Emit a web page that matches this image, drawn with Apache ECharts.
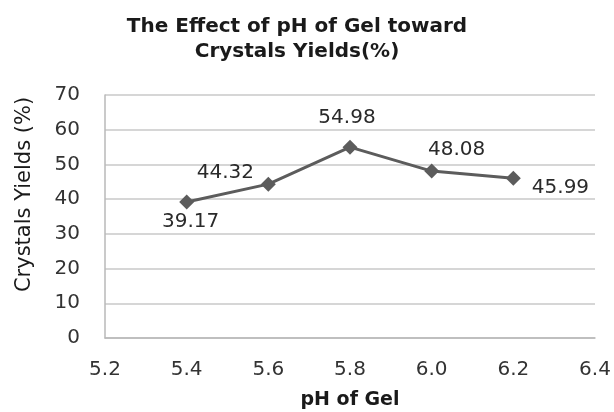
<!DOCTYPE html>
<html>
<head>
<meta charset="utf-8">
<script src="https://cdn.jsdelivr.net/npm/echarts@6/dist/echarts.min.js"></script>
<style>
  html, body { margin: 0; padding: 0; background: #fff; }
  #chart { width: 614px; height: 412px; }
</style>
</head>
<body>
<div id="chart"></div>
<script>
const phValues = [5.4, 5.6, 5.8, 6.0, 6.2];
const yields = [39.17, 44.32, 54.98, 48.08, 45.99];
// where each value label sits relative to its point
const labelPlacement = [
  { position: "bottom", offset: [4, -3] },
  { position: "top", offset: [-43, 11] },
  { position: "top", offset: [-3, -7] },
  { position: "top", offset: [25, 1] },
  { position: "right", offset: [6, 9] },
];

const font = "DejaVu Sans, sans-serif";
const chart = echarts.init(document.getElementById("chart"));

const points = phValues.map((x, i) => ({
  value: [x, yields[i]],
  label: {
    show: true,
    position: labelPlacement[i].position,
    offset: labelPlacement[i].offset,
    formatter: yields[i].toFixed(2),
  },
}));

chart.setOption({
  animation: false,
  title: {
    text: "The Effect of pH of Gel toward\nCrystals Yields(%)",
    left: 292,
    top: 9,
    textAlign: "center",
    textStyle: {
      fontFamily: font,
      fontSize: 20,
      fontWeight: "bold",
      color: "#1a1a1a",
      lineHeight: 25,
    },
  },
  grid: { left: 105, right: 19, top: 95, bottom: 74, outerBoundsMode: "none" },
  xAxis: {
    type: "value",
    min: 5.2,
    max: 6.4,
    interval: 0.2,
    name: "pH of Gel",
    nameLocation: "middle",
    nameGap: 53,
    nameTextStyle: { fontFamily: font, fontSize: 19, fontWeight: "bold", color: "#1a1a1a" },
    axisLine: { show: true, lineStyle: { color: "#b8b8b8", width: 1.5 } },
    axisTick: { show: false },
    splitLine: { show: false },
    axisLabel: {
      fontFamily: font,
      fontSize: 20,
      color: "#333",
      margin: 22,
      formatter: (v) => v.toFixed(1),
    },
  },
  yAxis: {
    type: "value",
    min: 0,
    max: 70,
    interval: 10,
    name: "Crystals Yields (%)",
    nameLocation: "middle",
    nameGap: 70,
    nameRotate: 90,
    nameTextStyle: { fontFamily: font, fontSize: 21, color: "#1a1a1a", padding: [0, 0, 0, 44] },
    axisLine: { show: true, lineStyle: { color: "#b8b8b8", width: 1.5 } },
    axisTick: { show: false },
    splitLine: { lineStyle: { color: "#c8c8c8", width: 1.5 } },
    axisLabel: { fontFamily: font, fontSize: 20, color: "#333", margin: 25 },
  },
  series: [
    {
      type: "line",
      data: points,
      symbol: "diamond",
      symbolSize: 15,
      lineStyle: { color: "#5c5c5c", width: 3 },
      itemStyle: { color: "#5c5c5c" },
      label: { fontFamily: font, fontSize: 20, color: "#2a2a2a" },
    },
  ],
});
</script>
</body>
</html>
